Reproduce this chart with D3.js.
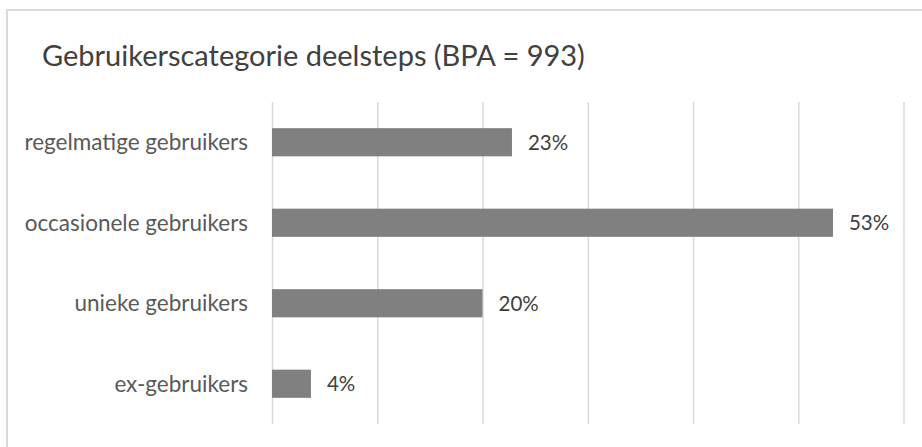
<!DOCTYPE html>
<html>
<head>
<meta charset="utf-8">
<script src="https://d3js.org/d3.v7.min.js"></script>
<style>
	body { margin: 0; background: #fff; }
	svg { display: block; font-family: Lato, 'Open Sans', sans-serif; }
</style>
</head>
<body>
<div id="chart"></div>
<script>
// Data
const categories = ['regelmatige gebruikers', 'occasionele gebruikers', 'unieke gebruikers', 'ex-gebruikers'];
const shares = [0.228, 0.533, 0.200, 0.037];
const gridTicks = [0, 0.1, 0.2, 0.3, 0.4, 0.5, 0.6];
const title = 'Gebruikerscategorie deelsteps (BPA = 993)';

const width = 922;
const height = 447;
const plot = { left: 272, right: 903.5, top: 102, bottom: 424 };

const rows = categories.map((name, i) => ({ name: name, value: shares[i] }));

const svg = d3.select('#chart').append('svg')
	.attr('width', width)
	.attr('height', height);

// Chart frame (only top and left edges are visible in the crop)
svg.append('rect')
	.attr('x', 7)
	.attr('y', 10)
	.attr('width', 1000)
	.attr('height', 1000)
	.attr('fill', 'none')
	.attr('stroke', '#d9d9d9')
	.attr('stroke-width', 2);

const x = d3.scaleLinear()
	.domain([0, 0.6])
	.range([plot.left, plot.right]);

const y = d3.scaleBand()
	.domain(categories)
	.range([plot.top, plot.bottom])
	.paddingInner(0.65)
	.paddingOuter(0.325);

// Vertical gridlines
const grid = svg.append('g')
	.attr('transform', 'translate(0,' + plot.bottom + ')')
	.call(d3.axisBottom(x)
		.tickValues(gridTicks)
		.tickSize(-(plot.bottom - plot.top))
		.tickFormat(''));
grid.select('.domain').remove();
grid.selectAll('.tick line')
	.attr('stroke', '#d9d9d9')
	.attr('stroke-width', 1.5);

// Bars
svg.append('g').selectAll('rect')
	.data(rows)
	.join('rect')
	.attr('x', x(0))
	.attr('y', d => y(d.name))
	.attr('width', d => x(d.value) - x(0))
	.attr('height', y.bandwidth())
	.attr('fill', '#808080');

// Value labels
svg.append('g').selectAll('text')
	.data(rows)
	.join('text')
	.attr('x', d => x(d.value) + 16)
	.attr('y', d => y(d.name) + y.bandwidth() / 2)
	.attr('dy', '0.36em')
	.attr('fill', '#404040')
	.style('font-size', '20.5px')
	.text(d => d3.format('.0%')(d.value));

// Category axis
const yAxis = svg.append('g')
	.attr('transform', 'translate(' + plot.left + ',0)')
	.call(d3.axisLeft(y).tickSize(0).tickPadding(24));
yAxis.select('.domain').remove();
yAxis.selectAll('.tick text')
	.attr('fill', '#595959')
	.attr('dy', '0.36em')
	.style('font-family', "Lato, 'Open Sans', sans-serif")
	.style('font-size', '22.5px');

// Title
svg.append('text')
	.attr('x', 42)
	.attr('y', 66)
	.attr('fill', '#404040')
	.style('font-size', '29px')
	.text(title);
</script>
</body>
</html>
